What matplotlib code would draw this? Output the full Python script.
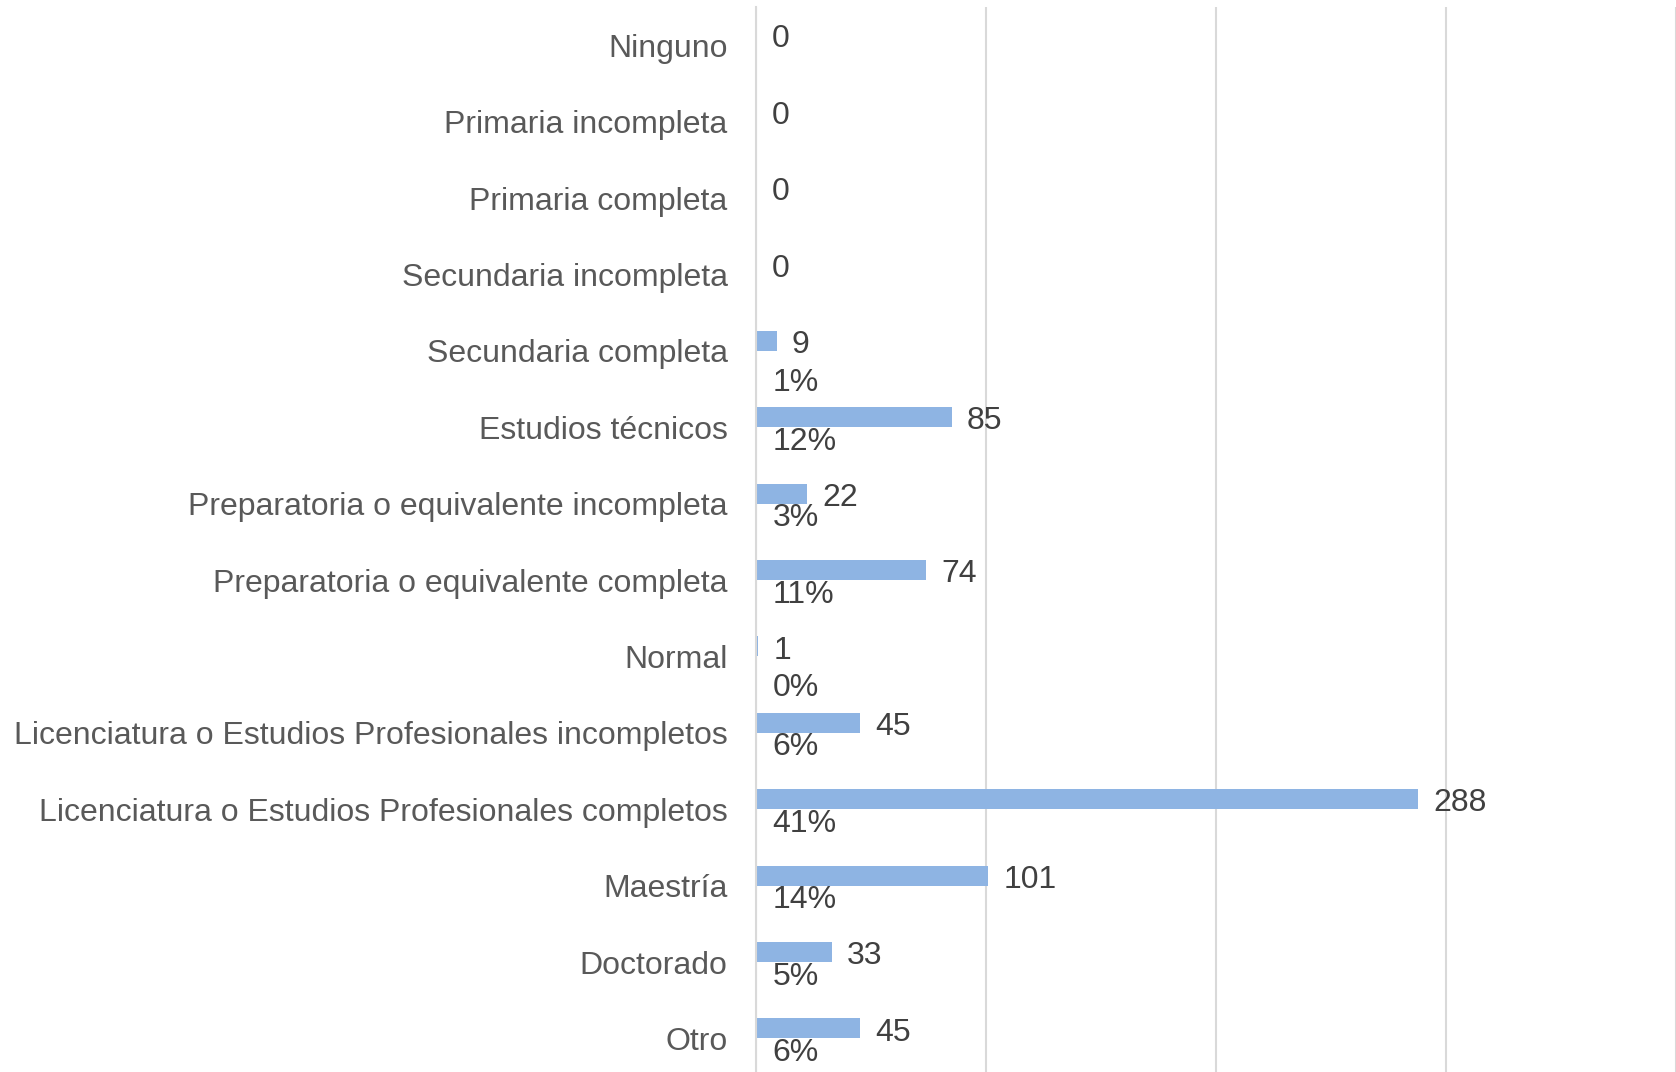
import matplotlib.pyplot as plt
import numpy as np

plt.rcParams["font.family"] = ["Liberation Sans", "DejaVu Sans"]

categories = [
    "Ninguno",
    "Primaria incompleta",
    "Primaria completa",
    "Secundaria incompleta",
    "Secundaria completa",
    "Estudios técnicos",
    "Preparatoria o equivalente incompleta",
    "Preparatoria o equivalente completa",
    "Normal",
    "Licenciatura o Estudios Profesionales incompletos",
    "Licenciatura o Estudios Profesionales completos",
    "Maestría",
    "Doctorado",
    "Otro",
]
counts = [0, 0, 0, 0, 9, 85, 22, 74, 1, 45, 288, 101, 33, 45]
percent_labels = ["", "", "", "", "1%", "12%", "3%", "11%", "0%", "6%", "41%", "14%", "5%", "6%"]

BAR_COLOR = "#8EB4E3"
GRID_COLOR = "#D9D9D9"
VALUE_COLOR = "#404040"
LABEL_COLOR = "#595959"
FONT_SIZE = 23

fig = plt.figure(figsize=(16.76, 10.72), dpi=100)
ax = fig.add_axes([756 / 1676, 0.0, 920 / 1676, 1 - 7 / 1072])

y = np.arange(len(categories))
bar_h = 0.262
ax.barh(y - bar_h / 2, counts, height=bar_h, color=BAR_COLOR, zorder=2)

ax.set_xlim(0, 400)
ax.set_ylim(-0.5 + 1065 / 76.4, -0.5)
ax.set_xticks([0, 100, 200, 300, 400])
ax.xaxis.grid(True, color=GRID_COLOR, linewidth=1.5, zorder=0)
ax.tick_params(axis="x", bottom=False, labelbottom=False)
ax.tick_params(axis="y", left=False, pad=17, labelsize=FONT_SIZE, labelcolor=LABEL_COLOR)
ax.set_yticks(y)
ax.set_yticklabels(categories)
for side in ["top", "right", "bottom"]:
    ax.spines[side].set_visible(False)
ax.spines["left"].set_color(GRID_COLOR)
ax.spines["left"].set_linewidth(1.5)

for i, (count, pct) in enumerate(zip(counts, percent_labels)):
    ax.annotate(str(count), xy=(count, i - bar_h / 2), xytext=(11, -3),
                textcoords="offset points", ha="left", va="center",
                fontsize=FONT_SIZE, color=VALUE_COLOR)
    if pct:
        # short bars push the percent label further down to clear the count label
        dy = -23 if count < 15 else -10.5
        ax.annotate(pct, xy=(0, i), xytext=(12, dy), textcoords="offset points",
                    ha="left", va="center", fontsize=FONT_SIZE, color=VALUE_COLOR)

fig.savefig("out.png", dpi=100)
